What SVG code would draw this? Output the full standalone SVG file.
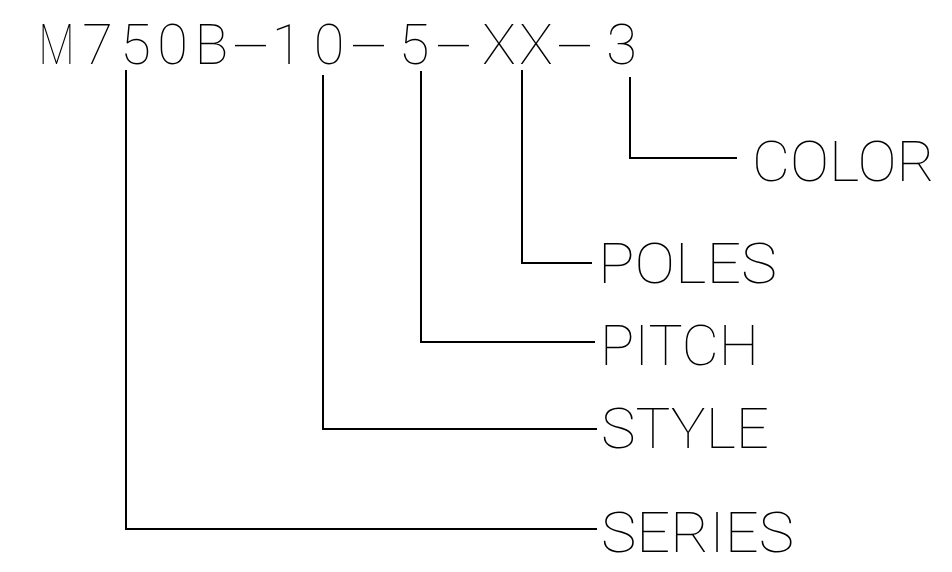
<svg xmlns="http://www.w3.org/2000/svg" width="952" height="572" viewBox="0 0 952 572">
<style>
.t{font-family:Roboto,"DejaVu Sans",sans-serif;font-weight:100;font-size:56px;fill:#000}
.c{fill:none;stroke:#000;stroke-width:2}
</style>
<rect width="952" height="572" fill="#fff"/>
<g id="code"><text class="t" y="64" text-anchor="middle"><tspan x="56.5" textLength="36" lengthAdjust="spacingAndGlyphs">M</tspan><tspan x="97.5 135.5 172.5 211.5">750B</tspan><tspan x="251" textLength="40" lengthAdjust="spacingAndGlyphs">-</tspan><tspan x="287 329">10</tspan><tspan x="369" textLength="40" lengthAdjust="spacingAndGlyphs">-</tspan><tspan x="414">5</tspan><tspan x="454" textLength="40" lengthAdjust="spacingAndGlyphs">-</tspan><tspan x="499 536">XX</tspan><tspan x="575" textLength="40" lengthAdjust="spacingAndGlyphs">-</tspan><tspan x="621.5">3</tspan></text></g>
<g id="connectors">
<path class="c" d="M126 70V529H597"/>
<path class="c" d="M323 75V429H597"/>
<path class="c" d="M421 71V342H595"/>
<path class="c" d="M522 70V263H592"/>
<path class="c" d="M630 77V158H737"/>
</g>
<g id="color"><text class="t" x="752" y="181" textLength="183" lengthAdjust="spacingAndGlyphs">COLOR</text></g>
<g id="poles"><text class="t" x="598" y="283" textLength="179" lengthAdjust="spacingAndGlyphs">POLES</text></g>
<g id="pitch"><text class="t" x="600" y="365" textLength="159" lengthAdjust="spacingAndGlyphs">PITCH</text></g>
<g id="style"><text class="t" x="601" y="448" textLength="168" lengthAdjust="spacingAndGlyphs">STYLE</text></g>
<g id="series"><text class="t" x="601" y="552" textLength="193" lengthAdjust="spacingAndGlyphs">SERIES</text></g>
</svg>
